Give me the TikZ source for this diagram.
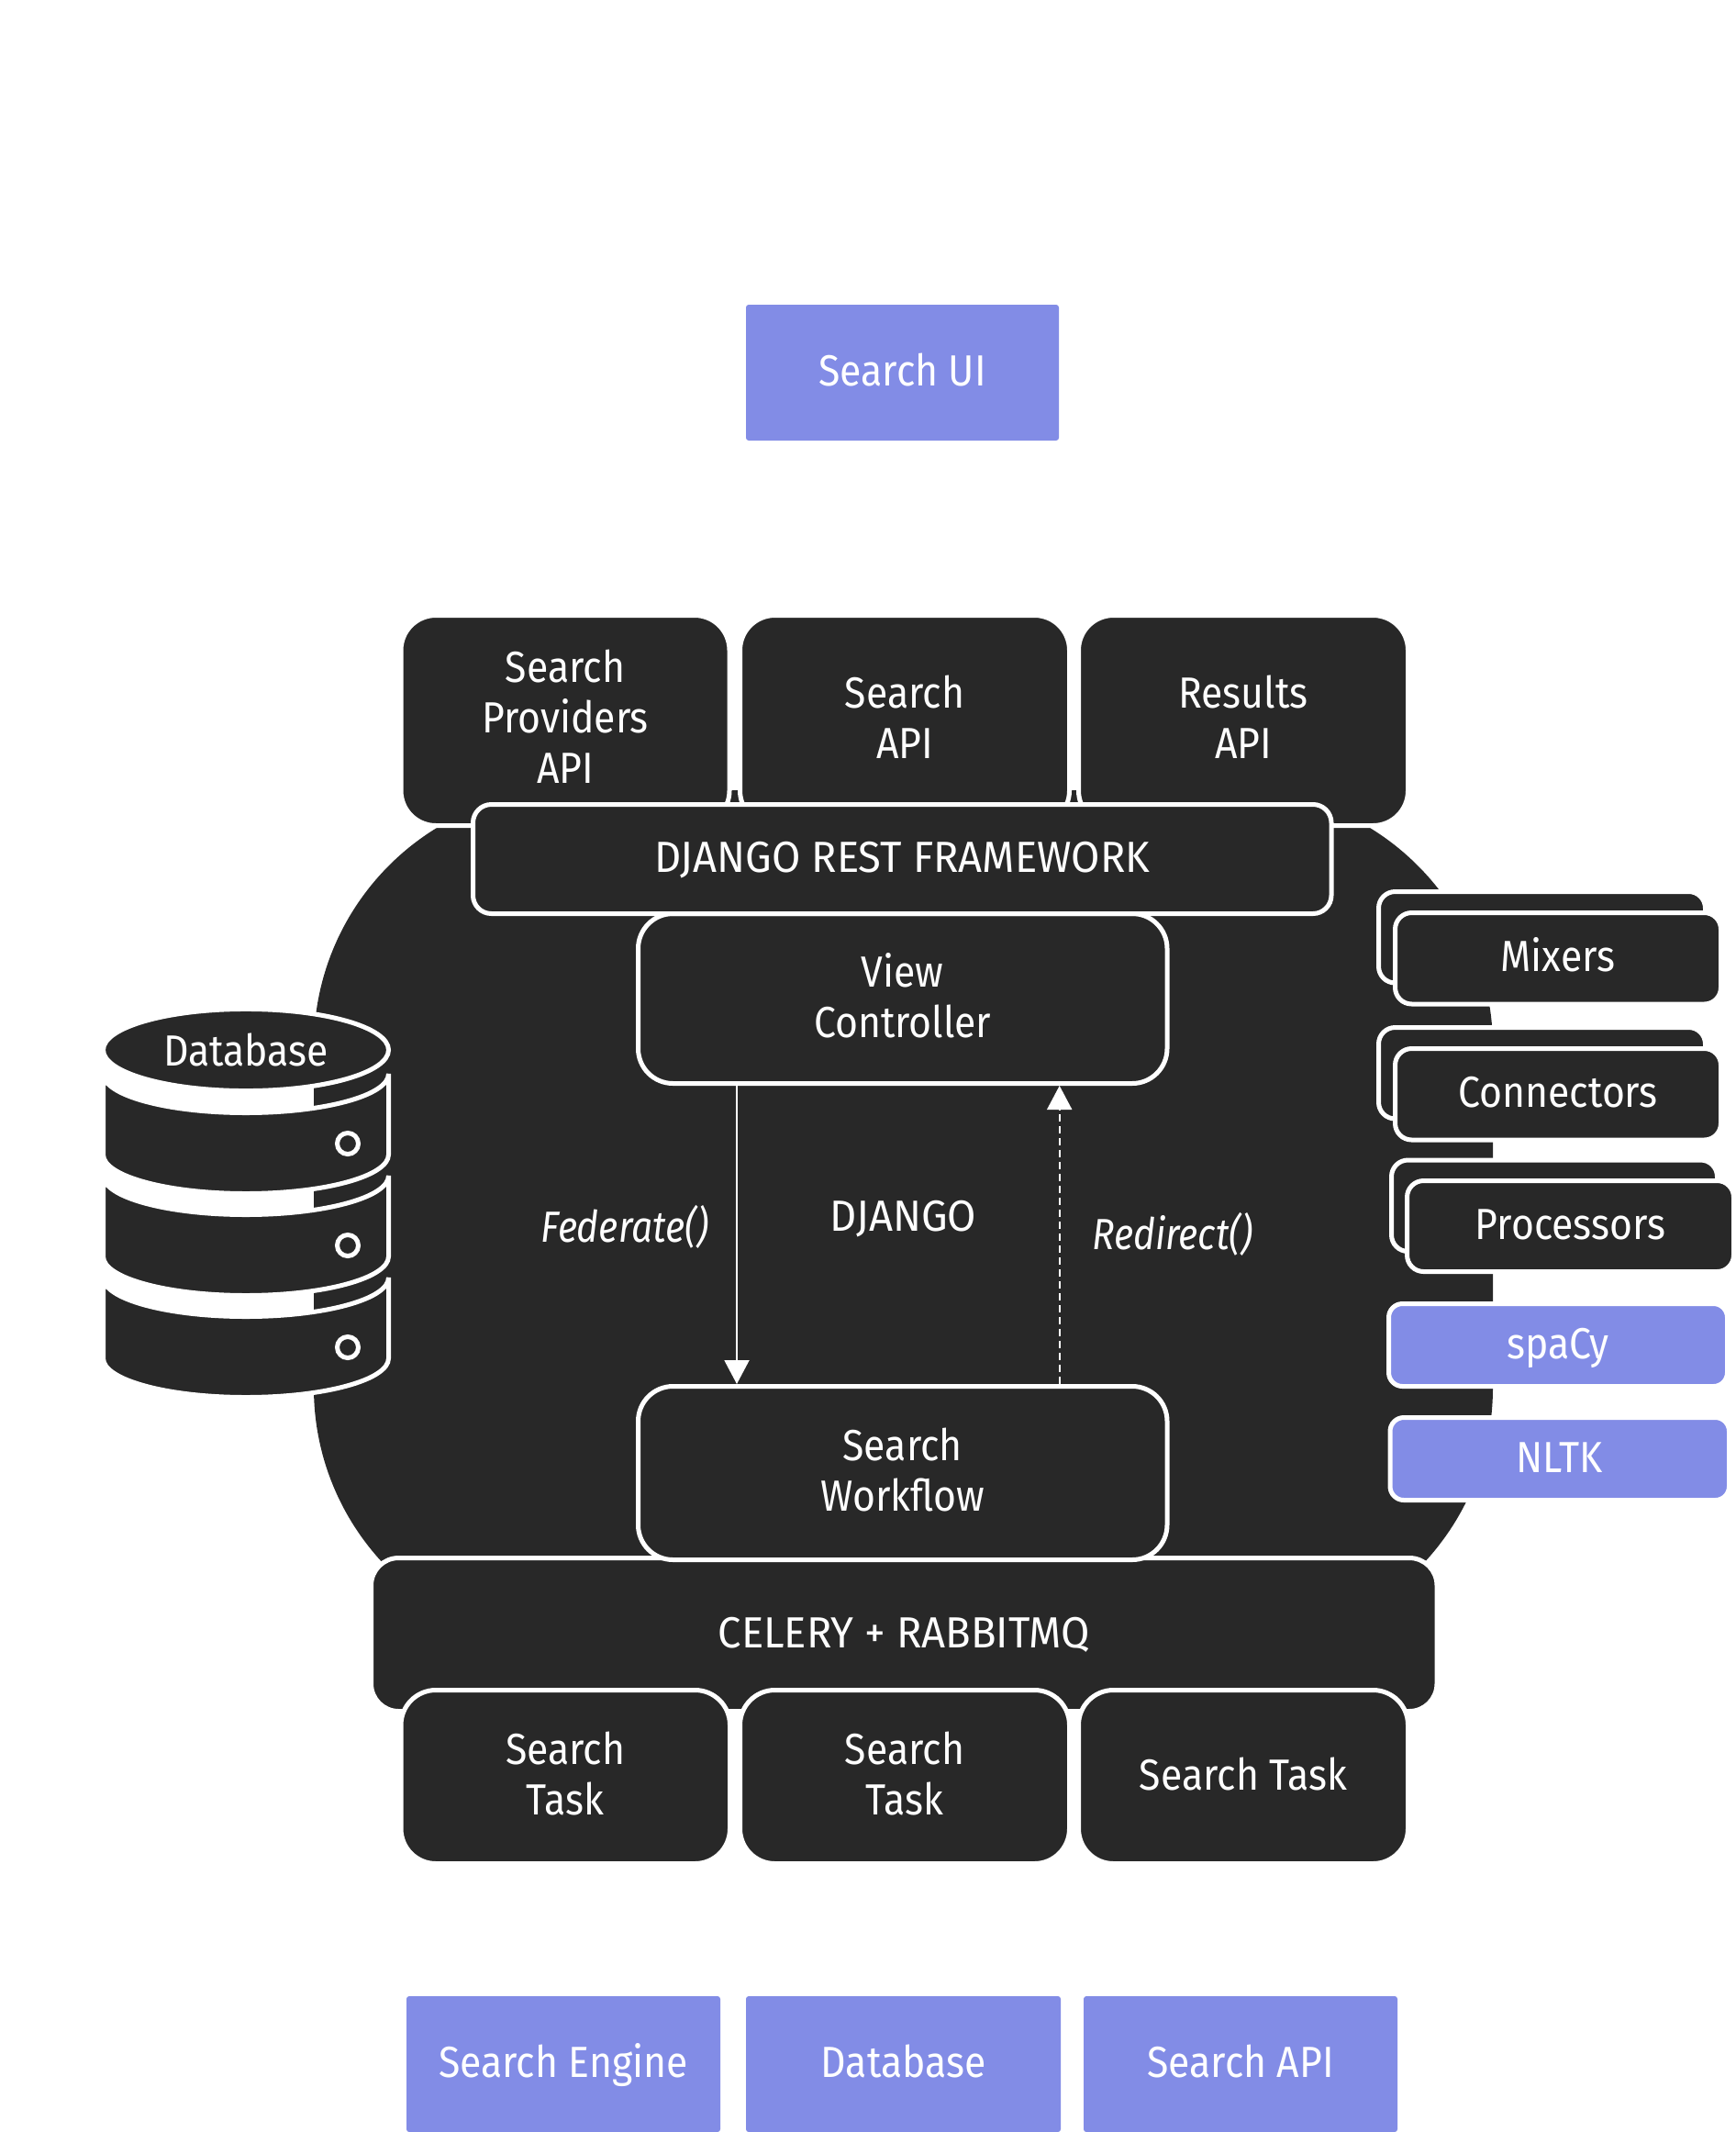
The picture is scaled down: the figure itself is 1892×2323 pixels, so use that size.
\documentclass[tikz,border=0pt]{standalone}
\usepackage{fontspec}
\setmainfont{Fira Sans}[FakeStretch=0.90,ItalicFeatures={FakeStretch=0.86}]
\newfontfamily\capsfont{Fira Sans}[FakeStretch=0.955]
\usetikzlibrary{arrows.meta,shapes.geometric}
\definecolor{dark}{HTML}{282828}
\definecolor{blue}{HTML}{828CE6}
\def\txtdepth{17pt}
\tikzset{
  extent/.style n args={4}{at={({(#1+#2)/2},{(#3+#4)/2})},minimum width={(#2-#1)*1pt},minimum height={(#4-#3)*1pt}},
  txt/.style={text=white,align=center,inner sep=0pt,font=\fontsize{47.5}{55}\selectfont,
    execute at begin node={\rule{0pt}{46pt}},execute at end node={\rule[-\txtdepth]{0pt}{\txtdepth}}},
  multi/.code={\def\txtdepth{8pt}},
  box/.style={txt,draw=white,line width=5pt,fill=dark,rounded corners=38pt},
  small/.style={box,rounded corners=18pt},
  bluebox/.style={txt,fill=blue,rounded corners=3pt},
  lib/.style={box,fill=blue,rounded corners=15pt},
  drum/.style={draw=white,line width=5pt,fill=dark,line join=miter},
  hole/.style={draw=white,line width=5pt,fill=none,circle,inner sep=0pt,minimum size=23pt},
  flow/.style={draw=white,line width=2pt},
  head/.style={-{Triangle[width=27pt,length=26pt,fill=white]}},
}
\begin{document}
\begin{tikzpicture}[x=1pt,y=-1pt]
\useasboundingbox (0,0) rectangle (1892,2323);
\fill[white] (0,0) rectangle (1892,2323);
% main blob
\node[txt,fill=dark,rounded corners=280pt,extent={342}{1627}{861}{1792}] (blob) {\capsfont DJANGO};
% search UI and outside systems
\node[bluebox,extent={813}{1154}{332}{480}] (ui) {Search UI};
\node[bluebox,extent={443}{785}{2175}{2323}] (engine) {Search Engine};
\node[bluebox,extent={813}{1156}{2175}{2323}] (extdb) {Database};
\node[bluebox,extent={1181}{1523}{2175}{2323}] (extapi) {Search API};
% database icon
\foreach \t/\c/\n in {1170/1246/1,1281/1357/2,1392/1468/3}{
  \draw[drum] (112.5,\t) -- ++(0,88) arc[start angle=180,end angle=360,x radius=155.5pt,y radius=42.5pt]
    -- (423.5,\t) arc[start angle=0,end angle=-180,x radius=155.5pt,y radius=42.5pt] -- cycle;
  \node[hole] (hole\n) at (379,\c) {};
}
\node[txt,ellipse,draw=white,line width=5pt,fill=dark,extent={112.5}{423.5}{1102.5}{1185.5}] (db) {\raisebox{-3pt}{Database}};
% stacks on the right
\node[small,extent={1502.5}{1858.5}{971.5}{1071}] (mixb) {};
\node[small,extent={1520.5}{1875.5}{994.5}{1094}] (mix) {Mixers};
\node[small,extent={1502.5}{1858.5}{1119.5}{1219}] (conb) {};
\node[small,extent={1520.5}{1875.5}{1142.5}{1242}] (con) {Connectors};
\node[small,extent={1516.5}{1871.5}{1264}{1363.5}] (prob) {};
\node[small,extent={1533.5}{1889.5}{1286.5}{1385.5}] (pro) {Processors};
\node[lib,extent={1513.5}{1882.5}{1420.5}{1510.5}] (spacy) {spaCy};
\node[lib,extent={1515}{1884.5}{1544.5}{1634.5}] (nltk) {NLTK};
% API boxes
\node[box,multi,extent={437}{795}{670.5}{899.5}] (prov) {Search\\Providers\\API};
\node[box,multi,extent={806.5}{1165.5}{670.5}{899.5}] (sapi) {Search\\API};
\node[box,multi,extent={1175.5}{1534.5}{670.5}{899.5}] (rapi) {Results\\API};
% Core
\node[box,multi,extent={695.5}{1272}{995.5}{1180.5}] (view) {View\\Controller};
\node[box,rounded corners=30pt,extent={404.5}{1566}{1697.5}{1864.5}] (celery) {\capsfont CELERY + RABBITMQ};
\node[box,multi,extent={695.5}{1272}{1510.5}{1699.5}] (wf) {Search\\Workflow};
\node[box,rounded corners=20pt,extent={515.5}{1451}{876.5}{995.5}] (drf) {\capsfont DJANGO REST FRAMEWORK};
% tasks
\node[box,multi,extent={437}{795.5}{1841.5}{2030.5}] (t1) {Search\\Task};
\node[box,multi,extent={806.5}{1165.5}{1841.5}{2030.5}] (t2) {Search\\Task};
\node[box,extent={1175.5}{1534.5}{1841.5}{2030.5}] (t3) {Search Task};
% connectors
\coordinate (fx) at (803,0);
\coordinate (rx) at (1154.7,0);
\draw[flow,head] (fx |- view.south) -- (fx |- wf.north);
\draw[flow,head,dash pattern=on 8pt off 5pt] (rx |- wf.north) -- (rx |- view.south);
\node[txt,font=\fontsize{47.5}{55}\selectfont\itshape] (fed) at (681,1338.5) {Federate()};
\node[txt,font=\fontsize{47.5}{55}\selectfont\itshape] (red) at (1278,1346.5) {Redirect()};
\end{tikzpicture}
\end{document}
